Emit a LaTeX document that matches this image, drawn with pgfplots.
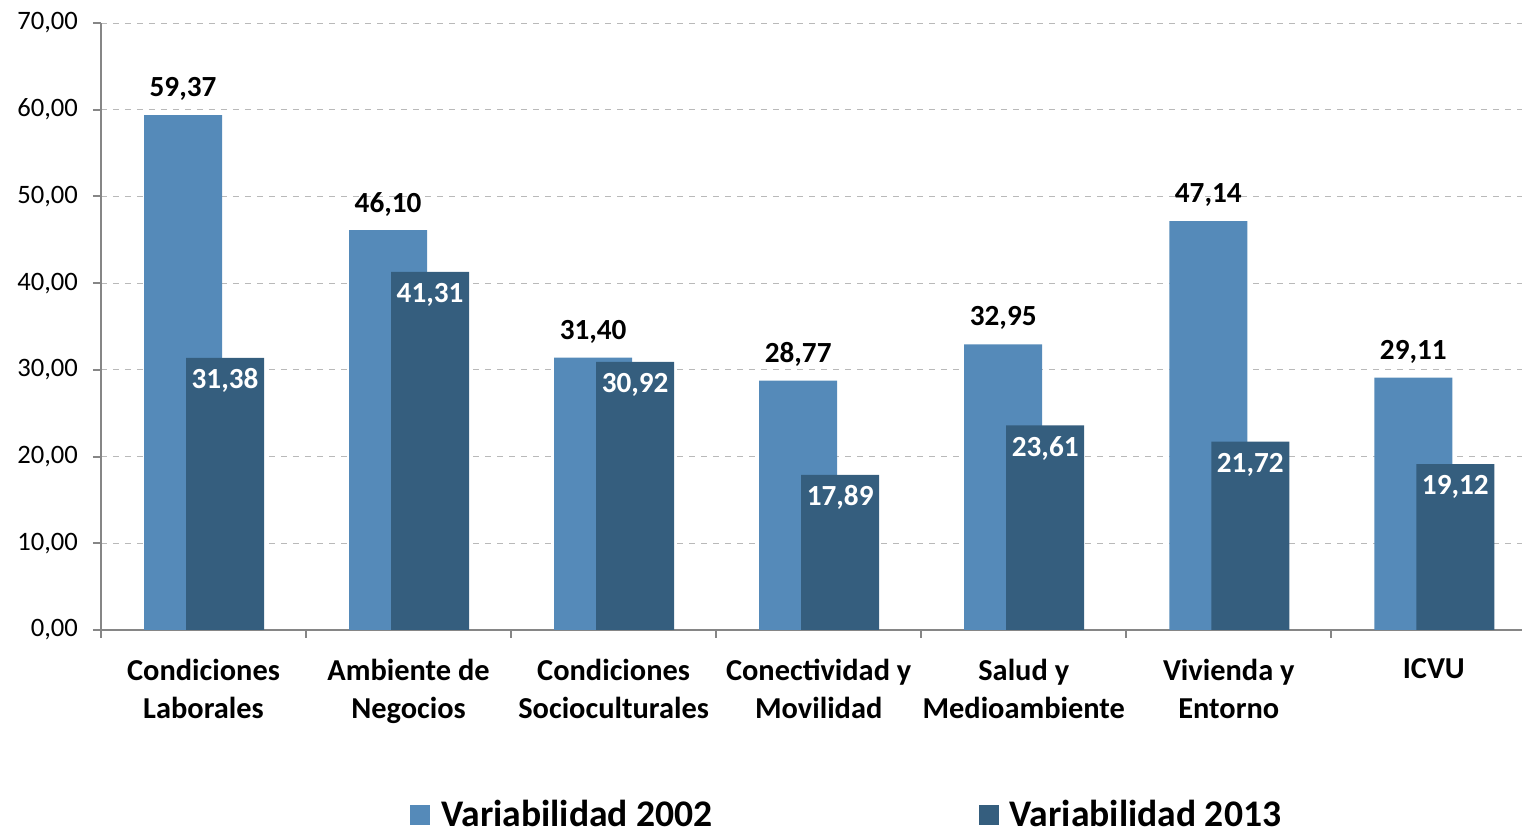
\documentclass[border=0pt]{standalone}
\usepackage{pgfplots}
\pgfplotsset{compat=1.18}
\usepackage{fontspec}
\setmainfont{Carlito}
\definecolor{c1}{RGB}{85,138,185}
\definecolor{c2}{RGB}{53,94,126}
\definecolor{axgray}{RGB}{134,134,134}
\begin{document}
\begin{tikzpicture}
\useasboundingbox (0pt,0pt) rectangle (761.5pt,414.5pt);
\begin{axis}[
  at={(50.5pt,99.5pt)}, anchor=south west,
  scale only axis, width=710.5pt, height=303.5pt,
  xmin=-0.5, xmax=6.43, ymin=0, ymax=70,
  axis x line=bottom, axis y line=left,
  axis line style={-, axgray, line width=1pt},
  ytick={0,10,...,70},
  xtick={0,...,6},
  xticklabels={{Condiciones\\Laborales},{Ambiente de\\Negocios},{Condiciones\\Socioculturales},{Conectividad y\\Movilidad},{Salud y\\Medioambiente},{Vivienda y\\Entorno},{ICVU}},
  minor xtick={-0.5,0.5,...,5.5},
  tick align=outside,
  major tick length=4pt, minor tick length=4pt,
  x tick style={draw=none},
  minor x tick style={draw=axgray, line width=1pt},
  y tick style={draw=axgray, line width=1pt},
  ymajorgrids, major grid style={gray!55, dashed, line width=0.4pt},
  /pgf/number format/assume math mode=true,
  /pgf/number format/use comma,
  /pgf/number format/fixed,
  /pgf/number format/fixed zerofill,
  /pgf/number format/precision=2,
  yticklabel style={font=\fontsize{13.3}{15}\selectfont, text=black, xshift=-4pt},
  xticklabel style={font=\bfseries\fontsize{15.2}{19}\selectfont, align=center, text=black, yshift=-7pt},
  legend style={at={(rel axis cs:0.5255,-0.305)}, anchor=center, draw=none, fill=none,
    legend columns=2, font=\bfseries\fontsize{18.8}{20}\selectfont,
    inner ysep=0pt, nodes={inner ysep=0pt},
    /tikz/every odd column/.append style={column sep=3.5pt},
    /tikz/every even column/.append style={column sep=131pt},
    legend cell align=left},
  legend image code/.code={\fill[#1] (0pt,-5pt) rectangle (10pt,5pt);},
]
\addplot[ybar, bar width=39pt, bar shift=-10.25pt, fill=c1, draw=none,
  nodes near coords, nodes near coords style={font=\bfseries\fontsize{14.6}{16}\selectfont, text=black, anchor=center, yshift=13pt, xshift=-10.25pt}]
  coordinates {(0,59.37) (1,46.10) (2,31.40) (3,28.77) (4,32.95) (5,47.14) (6,29.11)};
\addlegendentry{Variabilidad 2002}
\addplot[ybar, bar width=39pt, bar shift=10.75pt, fill=c2, draw=none,
  nodes near coords, nodes near coords style={font=\bfseries\fontsize{14.6}{16}\selectfont, text=white, anchor=center, yshift=-11.5pt, xshift=10.75pt}]
  coordinates {(0,31.38) (1,41.31) (2,30.92) (3,17.89) (4,23.61) (5,21.72) (6,19.12)};
\addlegendentry{Variabilidad 2013}
\end{axis}
\end{tikzpicture}
\end{document}
